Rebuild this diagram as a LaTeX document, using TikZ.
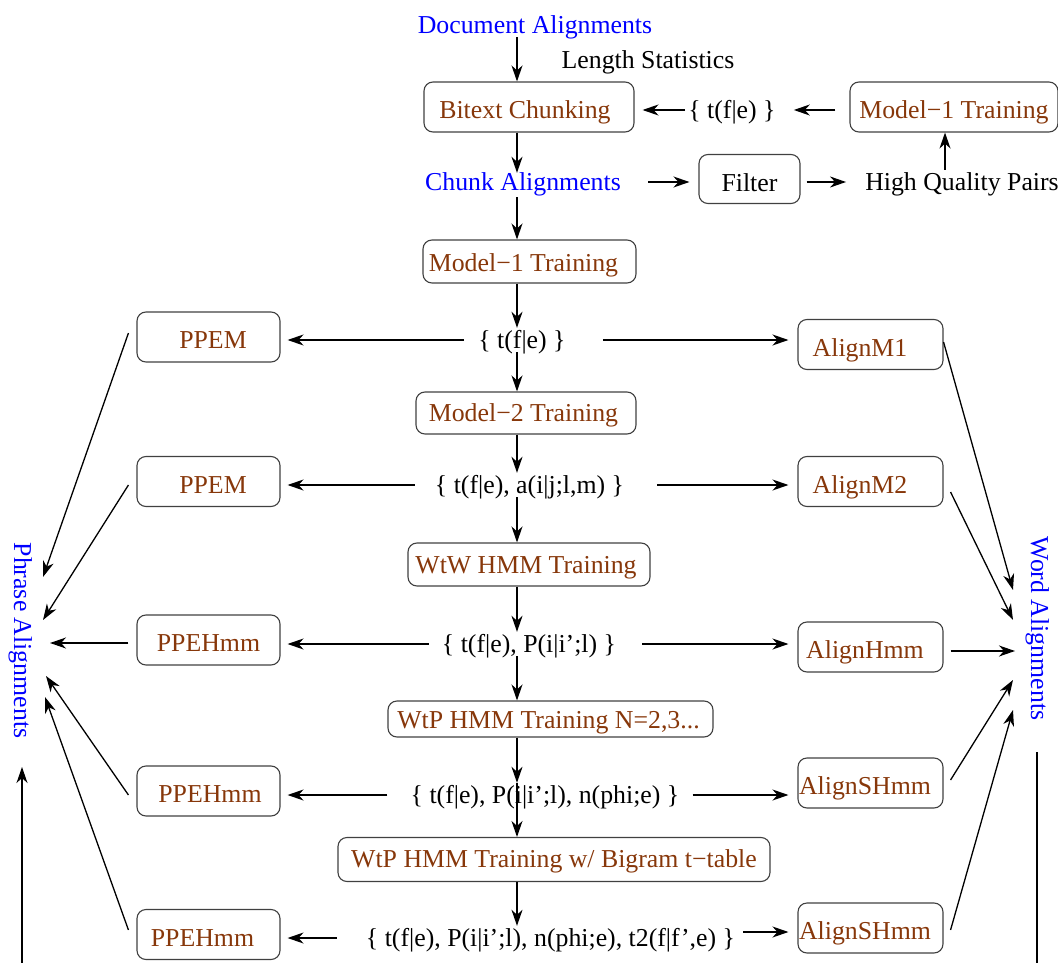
\documentclass[tikz,border=0pt]{standalone}
\usepackage{fontspec}
\setmainfont{Liberation Serif}
\usetikzlibrary{arrows.meta,calc}
\definecolor{figblue}{RGB}{0,0,255}
\definecolor{figbrown}{RGB}{135,55,10}
\newcommand\hs[2]{\hspace*{#1}#2}
\begin{document}
\begin{tikzpicture}[x=1pt,y=-1pt,
  every node/.style={font=\fontsize{25.8}{30}\selectfont, inner sep=0pt, text height=20.5pt, text depth=3.5pt},
  box/.style={draw=black!75, line width=1.1pt, rounded corners=9pt, text=figbrown},
  bx/.style n args={3}{box, minimum width=#1, text height=#2, text depth=#3},
  lbox/.style={bx={143pt}{36.5pt}{13.5pt}},
  rbox/.style={bx={145pt}{36.5pt}{13.5pt}},
  bluetext/.style={text=figblue},
  arr/.style={-{Stealth[length=16pt,width=11pt,inset=5pt]}, line width=1.3pt},
  ln/.style={line width=1.3pt}]
\useasboundingbox (0,0) rectangle (1058,963);

% ---- top part
\node[bluetext] (docal) at (535,25) {Document Alignments};
\node (lenstat) at (648,60) {Length Statistics};
\node[bx={210pt}{37pt}{13pt}] (bitext) at (529,107) {\hs{-8pt}Bitext Chunking};
\node (tfe0) at (732,110) {\{ t(f|e) \}};
\node[bx={208pt}{37pt}{13pt}] (m1top) at (954,107) {Model−1 Training};
\node[bluetext] (chunk) at (523,182) {Chunk Alignments};
\node[bx={101pt}{37pt}{12pt}, text=black] (filter) at (749.5,179) {Filter};
\node (hqp) at (962,182) {High Quality Pairs};

% ---- central column
\node[bx={213pt}{31pt}{12pt}] (m1) at (529.5,261.5) {\hs{-12pt}Model−1 Training};
\node (tfe1) at (522,340) {\{ t(f|e) \}};
\node[bx={220pt}{29.5pt}{12.5pt}] (m2) at (526,413) {\hs{-5pt}Model−2 Training};
\node (p2) at (529.5,485) {\{ t(f|e), a(i|j;l,m) \}};
\node[bx={242pt}{30.5pt}{12.5pt}] (wtw) at (529,564.5) {\hs{-6pt}WtW HMM Training};
\node (p3) at (529,644) {\{ t(f|e), P(i|i’;l) \}};
\node[bx={325pt}{27pt}{9pt}] (wtp) at (550.5,719) {\hs{-4pt}WtP HMM Training N=2,3...};
\node (p4) at (545,795) {\{ t(f|e), P(i|i’;l), n(phi;e) \}};
\node[bx={432pt}{30pt}{14pt}] (wtpb) at (554,859.5) {WtP HMM Training w/ Bigram t−table};
\node (p5) at (550.5,938) {\{ t(f|e), P(i|i’;l), n(phi;e), t2(f|f’,e) \}};

% ---- left boxes
\node[lbox] (ppem1) at (208.5,337) {\hs{9pt}PPEM};
\node[lbox] (ppem2) at (208.5,481.5) {\hs{9pt}PPEM};
\node[lbox] (ppeh3) at (208.5,640) {PPEHmm};
\node[lbox] (ppeh4) at (208.5,791) {\hs{3pt}PPEHmm};
\node[lbox] (ppeh5) at (208.5,934.5) {\hs{-12pt}PPEHmm};

% ---- right boxes
\node[rbox] (am1) at (870.5,344.5) {\hs{-21pt}AlignM1};
\node[rbox] (am2) at (870.5,481.5) {\hs{-21pt}AlignM2};
\node[rbox] (ahmm) at (870.5,647) {\hs{-11pt}AlignHmm};
\node[rbox] (ash4) at (870.5,783) {\hs{-11pt}AlignSHmm};
\node[rbox] (ash5) at (870.5,928) {\hs{-11pt}AlignSHmm};

% ---- side labels
\node[bluetext, rotate=-90, text height=18pt, text depth=6pt] (phrase) at (20,640.5) {Phrase Alignments};
\node[bluetext, rotate=-90, text height=18pt, text depth=6pt] (word) at (1037,628.5) {Word Alignments};

% ---- coordinates
\coordinate (colx) at (517,0);
\coordinate (hqx) at (945,0);
\coordinate (pa1) at (43,577);
\coordinate (pa2) at (43,620);
\coordinate (pa3) at (50,643);
\coordinate (pa4) at (46,676);
\coordinate (pa5) at (45,697);
\coordinate (wa1) at (1013,590);
\coordinate (wa2) at (1013,620);
\coordinate (wa3) at (1015,651);
\coordinate (wa4) at (1013,680);
\coordinate (wa5) at (1013,710);
\coordinate (lbot) at (22,963);
\coordinate (ltop) at (22,767);
\coordinate (rtop) at (1037,752);
\coordinate (rbot) at (1037,963);

% ---- vertical chain
\draw[arr] (docal.south -| colx) -- (bitext.north -| colx);
\draw[arr] (bitext.south -| colx) -- ([yshift=-3pt]chunk.north -| colx);
\draw[arr] ([yshift=-3pt]chunk.south -| colx) -- (m1.north -| colx);
\draw[arr] (m1.south -| colx) -- (tfe1.north -| colx);
\draw[arr] (tfe1.south -| colx) -- (m2.north -| colx);
\draw[arr] (m2.south -| colx) -- (p2.north -| colx);
\draw[arr] (p2.south -| colx) -- (wtw.north -| colx);
\draw[arr] (wtw.south -| colx) -- (p3.north -| colx);
\draw[arr] (p3.south -| colx) -- (wtp.north -| colx);
\draw[arr] (wtp.south -| colx) -- (p4.north -| colx);
\draw[arr] (p4.north -| colx) -- (wtpb.north -| colx);
\draw[arr] (wtpb.south -| colx) -- (p5.north -| colx);

% ---- top horizontal
\draw[arr] ([xshift=-3pt]tfe0.west) -- ([xshift=8pt]bitext.east |- tfe0.west);
\draw[arr] ([xshift=-14pt]m1top.west |- tfe0.east) -- ([xshift=18pt]tfe0.east);
\draw[arr] ([xshift=27pt]chunk.east) -- ([xshift=-9pt]filter.west |- chunk.east);
\draw[arr] ([xshift=6pt]filter.east |- hqp.west) -- ([xshift=-19pt]hqp.west);
\draw[arr] (hqp.north -| hqx) -- (m1top.south -| hqx);

% ---- rows: left
\draw[arr, shorten >=7pt] ([xshift=-14pt]tfe1.west) -- (tfe1.west -| ppem1.east);
\draw[arr, shorten >=7pt] ([xshift=-20pt]p2.west) -- (p2.west -| ppem2.east);
\draw[arr, shorten >=7pt] ([xshift=-13pt]p3.west) -- (p3.west -| ppeh3.east);
\draw[arr, shorten >=7pt] ([xshift=-23pt]p4.west) -- (p4.west -| ppeh4.east);
\draw[arr, shorten >=7pt] ([xshift=-29pt]p5.west) -- (p5.west -| ppeh5.east);

% ---- rows: right
\draw[arr, shorten >=9pt] ([xshift=37pt]tfe1.east) -- (tfe1.east -| am1.west);
\draw[arr, shorten >=9pt] ([xshift=33pt]p2.east) -- (p2.east -| am2.west);
\draw[arr, shorten >=9pt] ([xshift=26pt]p3.east) -- (p3.east -| ahmm.west);
\draw[arr, shorten >=9pt] ([xshift=13pt]p4.east) -- (p4.east -| ash4.west);
\draw[arr, shorten >=9pt] ([xshift=8pt,yshift=6pt]p5.east) -- ([yshift=6pt]p5.east -| ash5.west);

% ---- to Phrase Alignments
\draw[arr] ([xshift=-8pt,yshift=4pt]ppem1.west) -- (pa1);
\draw[arr] ([xshift=-8pt,yshift=-3.5pt]ppem2.west) -- (pa2);
\draw[arr] ([xshift=-8pt,yshift=-3pt]ppeh3.west) -- (pa3);
\draw[arr] ([xshift=-8pt,yshift=-4pt]ppeh4.west) -- (pa4);
\draw[arr] ([xshift=-8pt,yshift=4.5pt]ppeh5.west) -- (pa5);
\draw[arr] (lbot) -- (ltop);

% ---- to Word Alignments
\draw[arr] ([yshift=2.5pt]am1.east) -- (wa1);
\draw[arr] ([xshift=7pt,yshift=-10.5pt]am2.east) -- (wa2);
\draw[arr] ([xshift=7pt,yshift=-4pt]ahmm.east) -- (wa3);
\draw[arr] ([xshift=7pt,yshift=3pt]ash4.east) -- (wa4);
\draw[arr] ([xshift=7pt,yshift=-2pt]ash5.east) -- (wa5);
\draw[ln] (rtop) -- (rbot);
\end{tikzpicture}
\end{document}
